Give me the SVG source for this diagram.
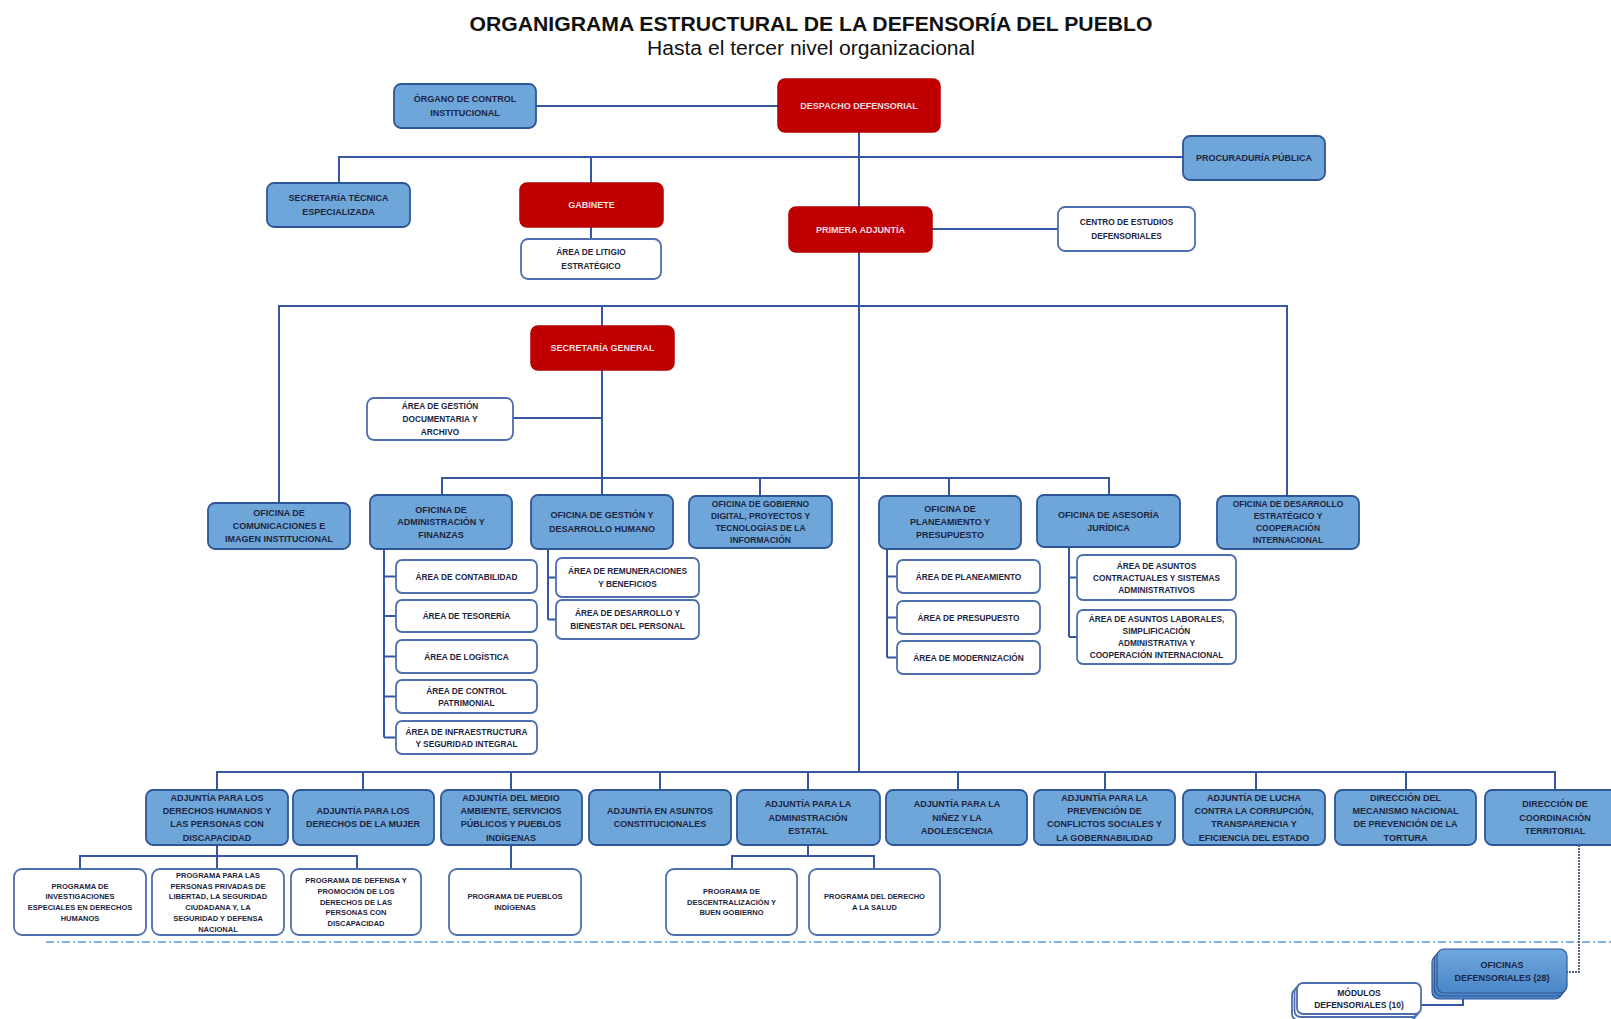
<svg xmlns="http://www.w3.org/2000/svg" width="1611" height="1019" viewBox="0 0 1611 1019">
<style>
.bg{fill:#ffffff}
.blue{fill:#6FA6DA;stroke:#2E5596;stroke-width:1.8}
.red{fill:#C00000;stroke:#B40000;stroke-width:1.5}
.white{fill:#ffffff;stroke:#4D6FAE;stroke-width:1.8}
.c{fill:none;stroke:#3556A0;stroke-width:2}
text{font-family:"Liberation Sans Narrow","Liberation Sans",Arial,sans-serif;font-weight:bold;text-anchor:middle;fill:#1C2541}
.f9{font-size:9px}
.f85{font-size:8.5px}
.f8{font-size:8.3px}
.f75{font-size:7.5px}
.rt{fill:#F4DDE2}
.title{font-family:"Liberation Sans",Arial,sans-serif;font-size:21px;fill:#111111}
.sub{font-family:"Liberation Sans",Arial,sans-serif;font-weight:normal;font-size:20px;fill:#111111}
</style>
<defs>
<linearGradient id="gOf" x1="0" y1="0" x2="0" y2="1">
<stop offset="0" stop-color="#6FA8DE"/>
<stop offset="1" stop-color="#4A86C8"/>
</linearGradient>
</defs>
<rect class="bg" x="0" y="0" width="1611" height="1019"/>
<text class="title" x="811" y="31" textLength="683" lengthAdjust="spacingAndGlyphs">ORGANIGRAMA ESTRUCTURAL DE LA DEFENSORÍA DEL PUEBLO</text>
<text class="sub" x="811" y="54.5" textLength="328" lengthAdjust="spacingAndGlyphs">Hasta el tercer nivel organizacional</text>

<g id="connectors">
<path class="c" d="M859,132 V771"/>
<path class="c" d="M536,106 H778"/>
<path class="c" d="M339,183 V157 H1183"/>
<path class="c" d="M591,157 V183 M591,227 V239"/>
<path class="c" d="M932,229 H1058"/>
<path class="c" d="M279,503 V306 H1287 V496"/>
<path class="c" d="M602,306 V326"/>
<path class="c" d="M602,370 V495 M513,418 H602"/>
<path class="c" d="M442,494 V478 H1109 V495 M760,478 V496 M949,478 V496"/>
<path class="c" d="M384,549 V737.5 M384,576.5 H396 M384,616 H396 M384,656.5 H396 M384,696.5 H396 M384,737.5 H396"/>
<path class="c" d="M548,549 V619.5 M548,577.5 H556 M548,619.5 H556"/>
<path class="c" d="M887,549 V657.5 M887,576.5 H897 M887,617.5 H897 M887,657.5 H897"/>
<path class="c" d="M1069,547 V637 M1069,577.5 H1077 M1069,637 H1077"/>
<path class="c" d="M217,790 V772 H1555 V790 M363,772 V790 M511,772 V790 M660,772 V790 M808,772 V790 M958,772 V790 M1105,772 V790 M1256,772 V790 M1406,772 V790"/>
<path class="c" d="M217,845 V869 M80,869 V856 H357 V869"/>
<path class="c" d="M511,845 V869"/>
<path class="c" d="M808,845 V856 M732,869 V856 H874 V869"/>
<path fill="none" stroke="#5B9BD5" stroke-width="1.5" stroke-dasharray="8 3 2 3" d="M46,942 H1611"/>
<path fill="none" stroke="#1F3864" stroke-width="1.5" stroke-dasharray="2 1" d="M1579,845 V972 H1567"/>
<path class="c" d="M1463,995 V1005 H1421"/>
</g>

<g id="organo"><rect class="blue" x="394" y="84" width="142" height="44" rx="7"/><text class="f9" x="465" y="102.2"><tspan x="465">ÓRGANO DE CONTROL</tspan><tspan x="465" dy="14">INSTITUCIONAL</tspan></text></g>
<g id="despacho"><rect class="red" x="778" y="79" width="162" height="53" rx="7"/><text class="f9 rt" x="859" y="108.7">DESPACHO DEFENSORIAL</text></g>
<g id="procuraduria"><rect class="blue" x="1183" y="136" width="142" height="44" rx="7"/><text class="f9" x="1254" y="161.2">PROCURADURÍA PÚBLICA</text></g>
<g id="secretaria-tecnica"><rect class="blue" x="267" y="183" width="143" height="44" rx="7"/><text class="f9" x="338.5" y="201.2"><tspan x="338.5">SECRETARÍA TÉCNICA</tspan><tspan x="338.5" dy="14">ESPECIALIZADA</tspan></text></g>
<g id="gabinete"><rect class="red" x="520" y="183" width="143" height="44" rx="7"/><text class="f9 rt" x="591.5" y="208.2">GABINETE</text></g>
<g id="litigio"><rect class="white" x="521" y="239" width="140" height="40" rx="7"/><text class="f8" x="591" y="255.3"><tspan x="591">ÁREA DE LITIGIO</tspan><tspan x="591" dy="13.4">ESTRATÉGICO</tspan></text></g>
<g id="primera-adjuntia"><rect class="red" x="789" y="207" width="143" height="45" rx="7"/><text class="f9 rt" x="860.5" y="232.7">PRIMERA ADJUNTÍA</text></g>
<g id="centro-estudios"><rect class="white" x="1058" y="207" width="137" height="44" rx="7"/><text class="f8" x="1126.5" y="225"><tspan x="1126.5">CENTRO DE ESTUDIOS</tspan><tspan x="1126.5" dy="14">DEFENSORIALES</tspan></text></g>
<g id="secretaria-general"><rect class="red" x="531" y="326" width="143" height="44" rx="7"/><text class="f9 rt" x="602.5" y="351.2">SECRETARÍA GENERAL</text></g>
<g id="gestion-documentaria"><rect class="white" x="367" y="398" width="146" height="42" rx="7"/><text class="f8" x="440" y="409.3"><tspan x="440">ÁREA DE GESTIÓN</tspan><tspan x="440" dy="12.7">DOCUMENTARIA Y</tspan><tspan x="440" dy="12.7">ARCHIVO</tspan></text></g>

<g id="comunicaciones"><rect class="blue" x="208" y="503" width="142" height="46" rx="7"/><text class="f9" x="279" y="516"><tspan x="279">OFICINA DE</tspan><tspan x="279" dy="13.2">COMUNICACIONES E</tspan><tspan x="279" dy="13.2">IMAGEN INSTITUCIONAL</tspan></text></g>
<g id="administracion"><rect class="blue" x="370" y="495" width="142" height="54" rx="7"/><text class="f9" x="441" y="512.5"><tspan x="441">OFICINA DE</tspan><tspan x="441" dy="12.7">ADMINISTRACIÓN Y</tspan><tspan x="441" dy="12.7">FINANZAS</tspan></text></g>
<g id="gestion-humano"><rect class="blue" x="531" y="495" width="142" height="54" rx="7"/><text class="f9" x="602" y="518.2"><tspan x="602">OFICINA DE GESTIÓN Y</tspan><tspan x="602" dy="14">DESARROLLO HUMANO</tspan></text></g>
<g id="gobierno-digital"><rect class="blue" x="689" y="496" width="143" height="52" rx="7"/><text class="f85" x="760.5" y="506.5"><tspan x="760.5">OFICINA DE GOBIERNO</tspan><tspan x="760.5" dy="12.3">DIGITAL, PROYECTOS Y</tspan><tspan x="760.5" dy="12.3">TECNOLOGÍAS DE LA</tspan><tspan x="760.5" dy="12.3">INFORMACIÓN</tspan></text></g>
<g id="planeamiento"><rect class="blue" x="879" y="496" width="142" height="53" rx="7"/><text class="f9" x="950" y="512.2"><tspan x="950">OFICINA DE</tspan><tspan x="950" dy="13">PLANEAMIENTO Y</tspan><tspan x="950" dy="13">PRESUPUESTO</tspan></text></g>
<g id="asesoria"><rect class="blue" x="1037" y="495" width="143" height="52" rx="7"/><text class="f9" x="1108.5" y="518"><tspan x="1108.5">OFICINA DE ASESORÍA</tspan><tspan x="1108.5" dy="12.5">JURÍDICA</tspan></text></g>
<g id="desarrollo-estrategico"><rect class="blue" x="1217" y="496" width="142" height="53" rx="7"/><text class="f85" x="1288" y="506.5"><tspan x="1288">OFICINA DE DESARROLLO</tspan><tspan x="1288" dy="12.3">ESTRATÉGICO Y</tspan><tspan x="1288" dy="12.3">COOPERACIÓN</tspan><tspan x="1288" dy="12.3">INTERNACIONAL</tspan></text></g>

<g id="contabilidad"><rect class="white" x="396" y="560" width="141" height="33" rx="6"/><text class="f8" x="466.5" y="579.5">ÁREA DE CONTABILIDAD</text></g>
<g id="tesoreria"><rect class="white" x="396" y="600" width="141" height="32" rx="6"/><text class="f8" x="466.5" y="619">ÁREA DE TESORERÍA</text></g>
<g id="logistica"><rect class="white" x="396" y="640" width="141" height="33" rx="6"/><text class="f8" x="466.5" y="659.5">ÁREA DE LOGÍSTICA</text></g>
<g id="control-patrimonial"><rect class="white" x="396" y="680" width="141" height="33" rx="6"/><text class="f8" x="466.5" y="693.5"><tspan x="466.5">ÁREA DE CONTROL</tspan><tspan x="466.5" dy="12">PATRIMONIAL</tspan></text></g>
<g id="infraestructura"><rect class="white" x="396" y="721" width="141" height="33" rx="6"/><text class="f8" x="466.5" y="734.5"><tspan x="466.5">ÁREA DE INFRAESTRUCTURA</tspan><tspan x="466.5" dy="12">Y SEGURIDAD INTEGRAL</tspan></text></g>

<g id="remuneraciones"><rect class="white" x="556" y="558" width="143" height="39" rx="6"/><text class="f8" x="627.5" y="574.3"><tspan x="627.5">ÁREA DE REMUNERACIONES</tspan><tspan x="627.5" dy="12.5">Y BENEFICIOS</tspan></text></g>
<g id="bienestar"><rect class="white" x="556" y="600" width="143" height="39" rx="6"/><text class="f8" x="627.5" y="616.3"><tspan x="627.5">ÁREA DE DESARROLLO Y</tspan><tspan x="627.5" dy="12.5">BIENESTAR DEL PERSONAL</tspan></text></g>

<g id="area-planeamiento"><rect class="white" x="897" y="560" width="143" height="33" rx="6"/><text class="f8" x="968.5" y="579.5">ÁREA DE PLANEAMIENTO</text></g>
<g id="area-presupuesto"><rect class="white" x="897" y="601" width="143" height="33" rx="6"/><text class="f8" x="968.5" y="620.5">ÁREA DE PRESUPUESTO</text></g>
<g id="area-modernizacion"><rect class="white" x="897" y="641" width="143" height="33" rx="6"/><text class="f8" x="968.5" y="660.5">ÁREA DE MODERNIZACIÓN</text></g>

<g id="contractuales"><rect class="white" x="1077" y="555" width="159" height="45" rx="6"/><text class="f8" x="1156.5" y="568.5"><tspan x="1156.5">ÁREA DE ASUNTOS</tspan><tspan x="1156.5" dy="12">CONTRACTUALES Y SISTEMAS</tspan><tspan x="1156.5" dy="12">ADMINISTRATIVOS</tspan></text></g>
<g id="laborales"><rect class="white" x="1077" y="610" width="159" height="54" rx="6"/><text class="f8" x="1156.5" y="621.5"><tspan x="1156.5">ÁREA DE ASUNTOS LABORALES,</tspan><tspan x="1156.5" dy="12.3">SIMPLIFICACIÓN</tspan><tspan x="1156.5" dy="12.3">ADMINISTRATIVA Y</tspan><tspan x="1156.5" dy="12.3">COOPERACIÓN INTERNACIONAL</tspan></text></g>

<g id="adj-ddhh"><rect class="blue" x="146" y="790" width="142" height="55" rx="7"/><text class="f9" x="217" y="800.6"><tspan x="217">ADJUNTÍA PARA LOS</tspan><tspan x="217" dy="13.4">DERECHOS HUMANOS Y</tspan><tspan x="217" dy="13.4">LAS PERSONAS CON</tspan><tspan x="217" dy="13.4">DISCAPACIDAD</tspan></text></g>
<g id="adj-mujer"><rect class="blue" x="293" y="790" width="141" height="55" rx="7"/><text class="f9" x="363" y="814"><tspan x="363">ADJUNTÍA PARA LOS</tspan><tspan x="363" dy="13.4">DERECHOS DE LA MUJER</tspan></text></g>
<g id="adj-ambiente"><rect class="blue" x="441" y="790" width="141" height="55" rx="7"/><text class="f9" x="511" y="800.6"><tspan x="511">ADJUNTÍA DEL MEDIO</tspan><tspan x="511" dy="13.4">AMBIENTE, SERVICIOS</tspan><tspan x="511" dy="13.4">PÚBLICOS Y PUEBLOS</tspan><tspan x="511" dy="13.4">INDÍGENAS</tspan></text></g>
<g id="adj-constitucionales"><rect class="blue" x="589" y="790" width="142" height="55" rx="7"/><text class="f9" x="660" y="814"><tspan x="660">ADJUNTÍA EN ASUNTOS</tspan><tspan x="660" dy="13.4">CONSTITUCIONALES</tspan></text></g>
<g id="adj-administracion"><rect class="blue" x="737" y="790" width="143" height="55" rx="7"/><text class="f9" x="808" y="807.3"><tspan x="808">ADJUNTÍA PARA LA</tspan><tspan x="808" dy="13.4">ADMINISTRACIÓN</tspan><tspan x="808" dy="13.4">ESTATAL</tspan></text></g>
<g id="adj-ninez"><rect class="blue" x="886" y="790" width="141" height="55" rx="7"/><text class="f9" x="957" y="807.3"><tspan x="957">ADJUNTÍA PARA LA</tspan><tspan x="957" dy="13.4">NIÑEZ Y LA</tspan><tspan x="957" dy="13.4">ADOLESCENCIA</tspan></text></g>
<g id="adj-conflictos"><rect class="blue" x="1034" y="790" width="141" height="55" rx="7"/><text class="f9" x="1104.5" y="800.6"><tspan x="1104.5">ADJUNTÍA PARA LA</tspan><tspan x="1104.5" dy="13.4">PREVENCIÓN DE</tspan><tspan x="1104.5" dy="13.4">CONFLICTOS SOCIALES Y</tspan><tspan x="1104.5" dy="13.4">LA GOBERNABILIDAD</tspan></text></g>
<g id="adj-corrupcion"><rect class="blue" x="1183" y="790" width="142" height="55" rx="7"/><text class="f9" x="1254" y="800.6"><tspan x="1254">ADJUNTÍA DE LUCHA</tspan><tspan x="1254" dy="13.4">CONTRA LA CORRUPCIÓN,</tspan><tspan x="1254" dy="13.4">TRANSPARENCIA Y</tspan><tspan x="1254" dy="13.4">EFICIENCIA DEL ESTADO</tspan></text></g>
<g id="dir-tortura"><rect class="blue" x="1335" y="790" width="141" height="55" rx="7"/><text class="f9" x="1405.5" y="800.6"><tspan x="1405.5">DIRECCIÓN DEL</tspan><tspan x="1405.5" dy="13.4">MECANISMO NACIONAL</tspan><tspan x="1405.5" dy="13.4">DE PREVENCIÓN DE LA</tspan><tspan x="1405.5" dy="13.4">TORTURA</tspan></text></g>
<g id="dir-territorial"><rect class="blue" x="1485" y="790" width="142" height="55" rx="7"/><text class="f9" x="1555" y="807.3"><tspan x="1555">DIRECCIÓN DE</tspan><tspan x="1555" dy="13.4">COORDINACIÓN</tspan><tspan x="1555" dy="13.4">TERRITORIAL</tspan></text></g>

<g id="prog-investigaciones"><rect class="white" x="14" y="869" width="132" height="66" rx="8"/><text class="f75" x="80" y="888.7"><tspan x="80">PROGRAMA DE</tspan><tspan x="80" dy="10.7">INVESTIGACIONES</tspan><tspan x="80" dy="10.7">ESPECIALES EN DERECHOS</tspan><tspan x="80" dy="10.7">HUMANOS</tspan></text></g>
<g id="prog-privadas"><rect class="white" x="152" y="869" width="132" height="66" rx="8"/><text class="f75" x="218" y="878"><tspan x="218">PROGRAMA PARA LAS</tspan><tspan x="218" dy="10.7">PERSONAS PRIVADAS DE</tspan><tspan x="218" dy="10.7">LIBERTAD, LA SEGURIDAD</tspan><tspan x="218" dy="10.7">CIUDADANA Y, LA</tspan><tspan x="218" dy="10.7">SEGURIDAD Y DEFENSA</tspan><tspan x="218" dy="10.7">NACIONAL</tspan></text></g>
<g id="prog-discapacidad"><rect class="white" x="291" y="869" width="130" height="66" rx="8"/><text class="f75" x="356" y="883.3"><tspan x="356">PROGRAMA DE DEFENSA Y</tspan><tspan x="356" dy="10.7">PROMOCIÓN DE LOS</tspan><tspan x="356" dy="10.7">DERECHOS DE LAS</tspan><tspan x="356" dy="10.7">PERSONAS CON</tspan><tspan x="356" dy="10.7">DISCAPACIDAD</tspan></text></g>
<g id="prog-pueblos"><rect class="white" x="449" y="869" width="132" height="66" rx="8"/><text class="f75" x="515" y="899.4"><tspan x="515">PROGRAMA DE PUEBLOS</tspan><tspan x="515" dy="10.7">INDÍGENAS</tspan></text></g>
<g id="prog-descentralizacion"><rect class="white" x="666" y="869" width="131" height="66" rx="8"/><text class="f75" x="731.5" y="894"><tspan x="731.5">PROGRAMA DE</tspan><tspan x="731.5" dy="10.7">DESCENTRALIZACIÓN Y</tspan><tspan x="731.5" dy="10.7">BUEN GOBIERNO</tspan></text></g>
<g id="prog-salud"><rect class="white" x="809" y="869" width="131" height="66" rx="8"/><text class="f75" x="874.5" y="899.4"><tspan x="874.5">PROGRAMA DEL DERECHO</tspan><tspan x="874.5" dy="10.7">A LA SALUD</tspan></text></g>

<g id="oficinas-defensoriales">
<rect fill="url(#gOf)" stroke="#2E5596" stroke-width="1.2" x="1432" y="955" width="130" height="44" rx="7"/>
<rect fill="url(#gOf)" stroke="#2E5596" stroke-width="1.2" x="1434.5" y="952" width="130" height="44" rx="7"/>
<rect fill="url(#gOf)" stroke="#2E5596" stroke-width="1.2" x="1437" y="949" width="130" height="44" rx="7"/>
<text class="f9" x="1502" y="967.5"><tspan x="1502">OFICINAS</tspan><tspan x="1502" dy="13.4">DEFENSORIALES (28)</tspan></text>
</g>
<g id="modulos-defensoriales">
<rect class="white" x="1292" y="989" width="124" height="31" rx="6"/>
<rect class="white" x="1294.5" y="986" width="124" height="31" rx="6"/>
<rect class="white" x="1297" y="983" width="124" height="31" rx="6"/>
<text class="f85" x="1359" y="995.5"><tspan x="1359">MÓDULOS</tspan><tspan x="1359" dy="12">DEFENSORIALES (10)</tspan></text>
</g>
</svg>
